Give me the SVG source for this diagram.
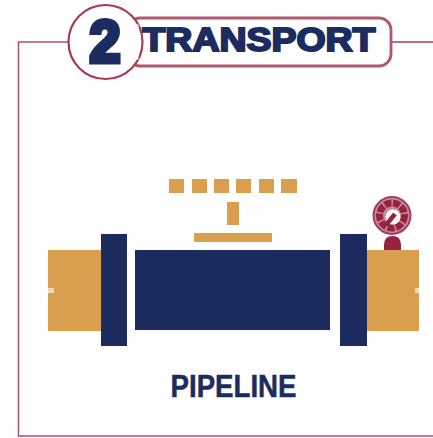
<svg xmlns="http://www.w3.org/2000/svg" width="433" height="438" viewBox="0 0 433 438">
<style>
.line{fill:none;stroke:#a8385c;stroke-width:1.4}
.gold{fill:#d99f4e}
.navy{fill:#1c2c5e}
.maroon{fill:#962342}
text{fill:#1c2c5e;font-family:"Liberation Sans",Arial,sans-serif;font-weight:700}
</style>
<rect width="433" height="438" fill="#fff"/>
<g id="connectors">
<path class="line" d="M68 42H18.500V436H433" style="stroke-width:1.5;stroke:#b0506f"/>
<path class="line" d="M391 42H433"/>
</g>
<g id="header">
<rect x="128" y="18" width="263" height="48" rx="12" fill="#fff" stroke="#b0586e" stroke-width="2.800"/>
<circle cx="105.500" cy="42" r="37" fill="#fff" stroke="#a8385c" stroke-width="2.200"/>
<path d="M135 24.500V59.500" stroke="#fff" stroke-width="7"/>
<text x="105" y="61.500" font-size="60" text-anchor="middle" stroke="#1c2c5e" stroke-width="5" textLength="31" lengthAdjust="spacingAndGlyphs">2</text>
<text x="259" y="51" font-size="33" text-anchor="middle" stroke="#1c2c5e" stroke-width="2" textLength="233" lengthAdjust="spacingAndGlyphs">TRANSPORT</text>
</g>
<g id="valve">
<rect class="gold" x="169" y="179" width="15" height="14"/>
<rect class="gold" x="192" y="179" width="15" height="14"/>
<rect class="gold" x="214" y="179" width="15" height="14"/>
<rect class="gold" x="236" y="179" width="15" height="14"/>
<rect class="gold" x="259" y="179" width="15" height="14"/>
<rect class="gold" x="281" y="179" width="16" height="14"/>
<rect class="gold" x="227" y="202" width="12" height="23"/>
<rect class="gold" x="194" y="233" width="78" height="9"/>
</g>
<g id="pipeline">
<rect class="gold" x="48" y="250" width="53" height="81"/>
<rect class="gold" x="367" y="250" width="52" height="81"/>
<rect x="48" y="288" width="6" height="5" fill="#f2dcb8"/>
<rect x="415" y="288" width="4" height="5" fill="#f2dcb8"/>
<rect class="navy" x="101" y="234" width="26" height="112"/>
<rect class="navy" x="135" y="250" width="195" height="80"/>
<rect class="navy" x="340" y="234" width="27" height="112"/>
</g>
<g id="gauge">
<path class="maroon" d="M384 250V245Q384 236 392.500 236Q401 236 401 245V250Z"/>
<circle cx="392" cy="215.500" r="18.500" fill="#c98a9c" stroke="#a04060" stroke-width="2"/>
<circle cx="392" cy="215.500" r="12.500" fill="none" stroke="#962342" stroke-width="7" stroke-dasharray="7 1.500"/>
<circle cx="393" cy="217" r="7.500" fill="#fff"/>
<path d="M386 225L395 214" stroke="#962342" stroke-width="4.500" fill="none"/>
</g>
<g id="label">
<text x="233.500" y="397" font-size="32" text-anchor="middle" textLength="126" lengthAdjust="spacingAndGlyphs" stroke="#1c2c5e" stroke-width=".5">PIPELINE</text>
</g>
</svg>
